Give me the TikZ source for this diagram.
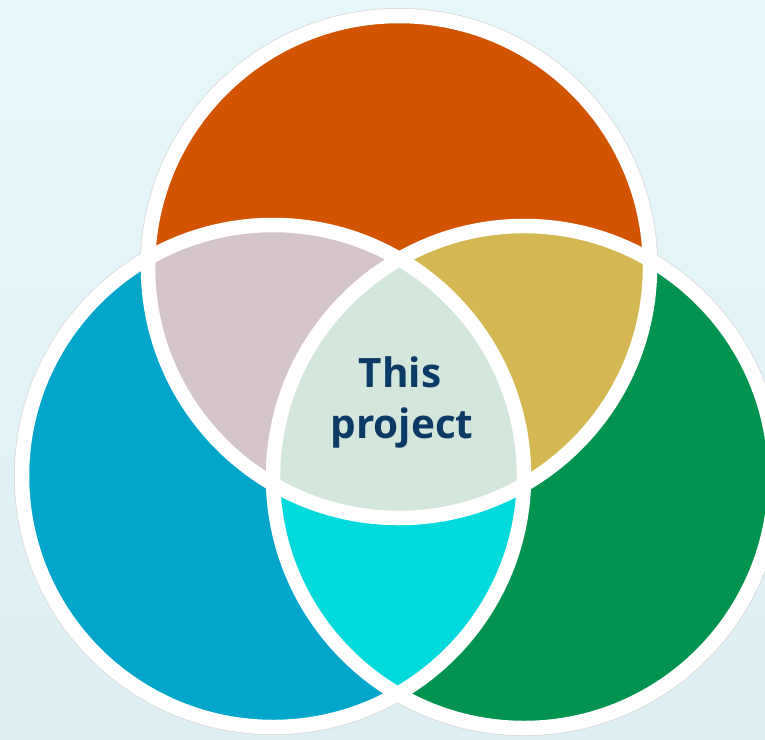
\documentclass[tikz,border=0pt]{standalone}
\usepackage{fontspec}
\setsansfont{Open Sans}
\definecolor{bgtop}{HTML}{E7F8FB}
\definecolor{bgbot}{HTML}{DDEFF3}
\definecolor{vorange}{HTML}{D35400}
\definecolor{vblue}{HTML}{02A6CB}
\definecolor{vgreen}{HTML}{02934E}
\definecolor{vpink}{HTML}{D5C4CB}
\definecolor{vgold}{HTML}{D4B750}
\definecolor{vcyan}{HTML}{00DADC}
\definecolor{vmint}{HTML}{D3E6DB}
\definecolor{navy}{HTML}{0B3A66}
\begin{document}
\begin{tikzpicture}[x=1pt,y=-1pt,
	ring/.style={draw=white,line width=14.5pt},
	halo/.style={draw=gray!30,line width=16pt},
	lbl/.style={font=\sffamily\bfseries\fontsize{40.5}{42}\selectfont,text=navy,anchor=base,inner sep=0pt}]
		\useasboundingbox (0,0) rectangle (765,739);
		\clip (0,0) rectangle (765,739);
		\shade[top color=bgtop,bottom color=bgbot] (0,0) rectangle (765,739);
		\def\R{251pt}
		\coordinate (ctop) at (399,267);
		\coordinate (cleft) at (273,476);
		\coordinate (cright) at (524,477);
		\foreach \c in {ctop,cleft,cright} \draw[halo] (\c) circle[radius=\R];
		\fill[vorange] (ctop) circle[radius=\R];
		\fill[vblue] (cleft) circle[radius=\R];
		\fill[vgreen] (cright) circle[radius=\R];
		\begin{scope}
			\clip (cleft) circle[radius=\R];
			\fill[vcyan] (cright) circle[radius=\R];
		\end{scope}
		\begin{scope}
			\clip (ctop) circle[radius=\R];
			\fill[vpink] (cleft) circle[radius=\R];
			\fill[vgold] (cright) circle[radius=\R];
			\clip (cleft) circle[radius=\R];
			\fill[vmint] (cright) circle[radius=\R];
		\end{scope}
		\foreach \c in {ctop,cleft,cright} \draw[ring] (\c) circle[radius=\R];
		\node[lbl] (this) at (400,387) {This};
		\node[lbl] (project) at (402,438) {project};
\end{tikzpicture}
\end{document}
